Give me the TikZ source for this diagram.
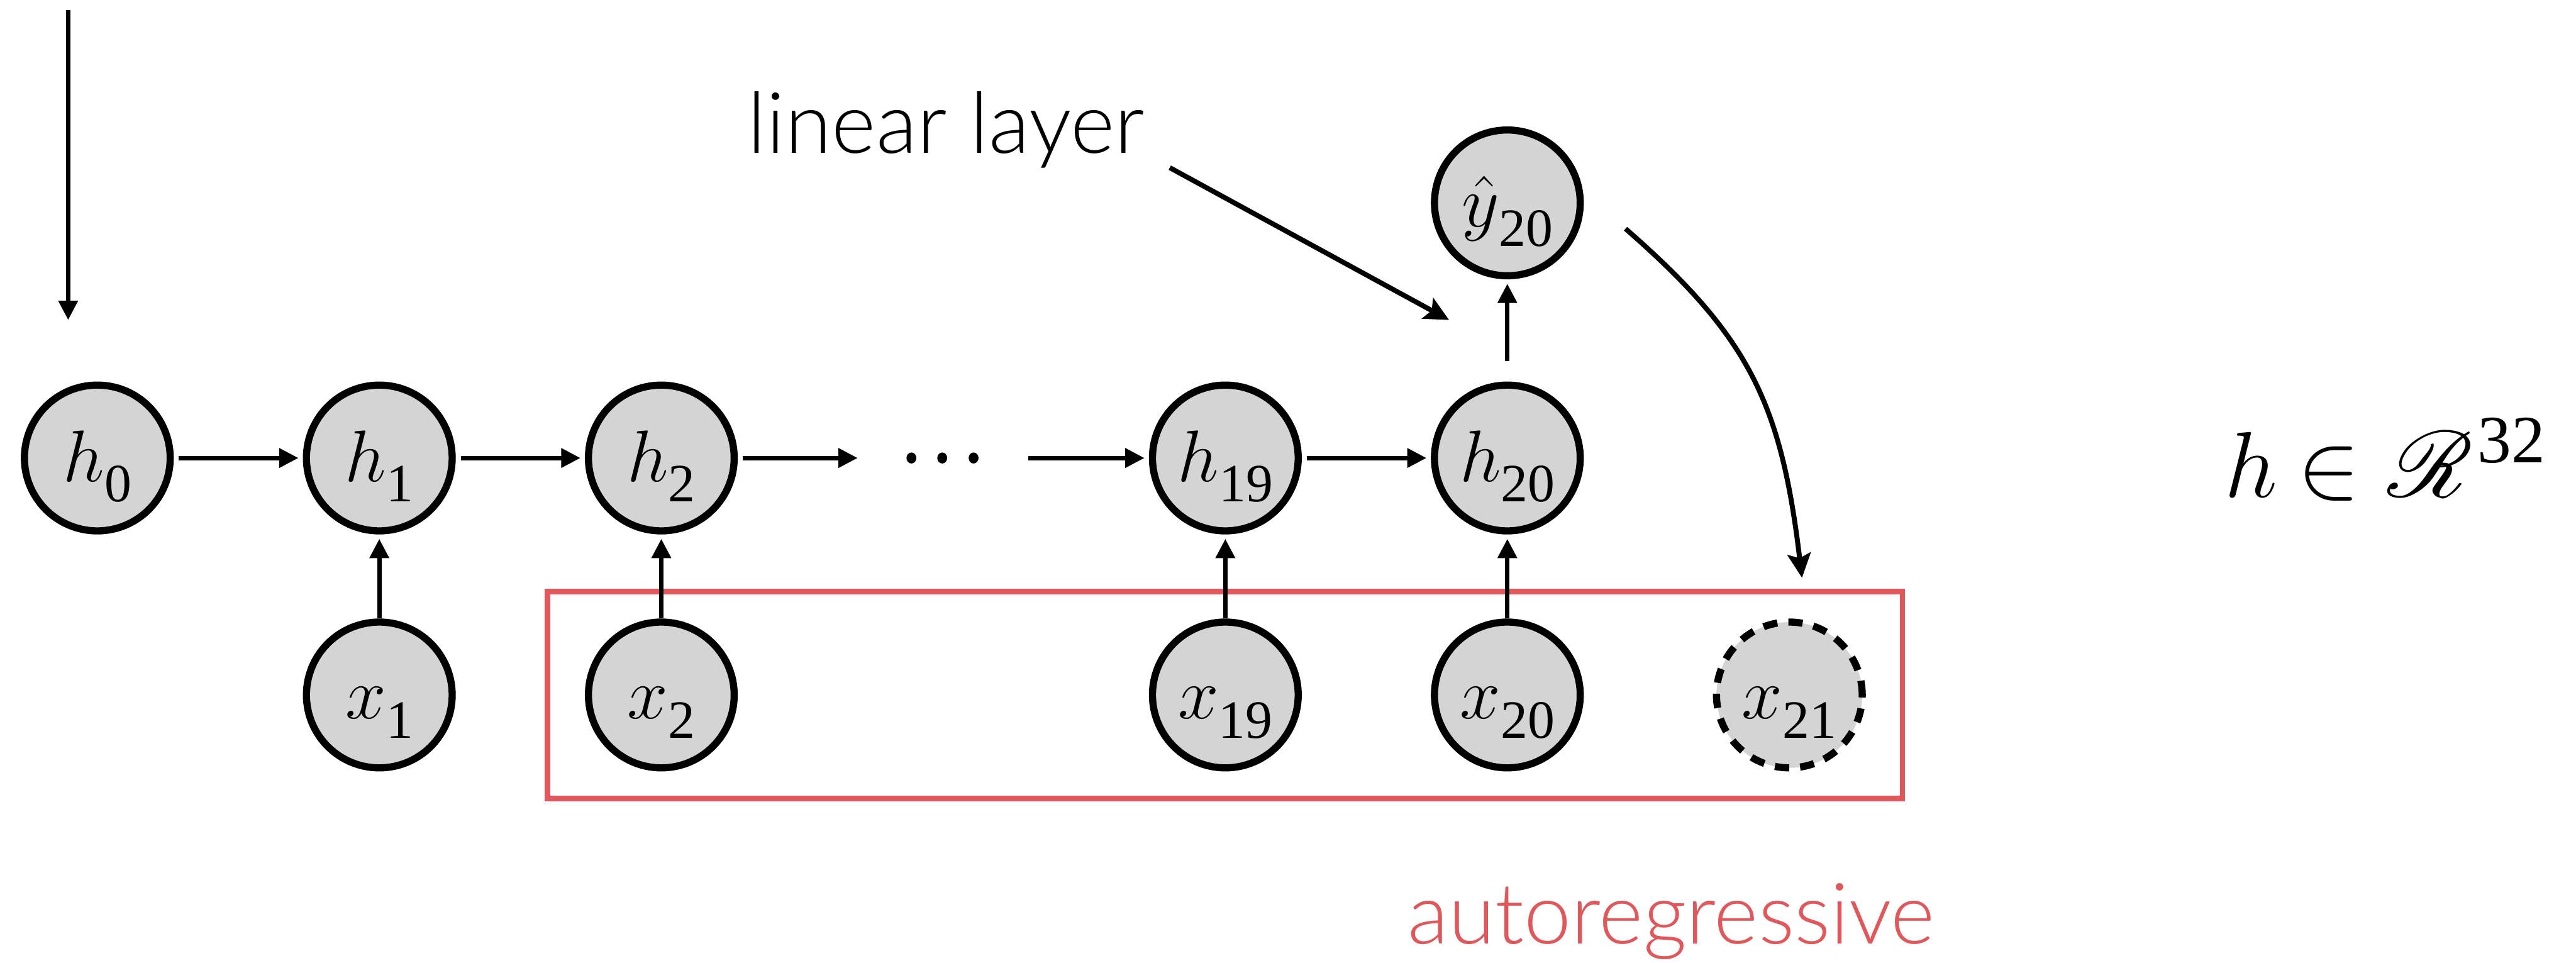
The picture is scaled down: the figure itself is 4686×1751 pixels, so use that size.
\RequirePackage{fix-cm}
\documentclass[tikz,border=0pt]{standalone}
\usepackage{fontspec}
\usetikzlibrary{arrows.meta}
\setmainfont{Liberation Serif}
\newfontfamily\labelfont{Liberation Serif}
\IfFontExistsTF{Lato Light}{\newfontfamily\lightsans{Lato Light}}{\newfontfamily\lightsans{Lato}}
% script R, scalable to any size
\DeclareFontFamily{U}{scriptr}{}
\DeclareFontShape{U}{scriptr}{m}{n}{<-> rsfs10}{}
\newcommand\scriptR{{\usefont{U}{scriptr}{m}{n}R}}
\definecolor{nodegray}{RGB}{212,212,212}
\definecolor{arred}{RGB}{224,88,92}
% italic symbol with an upright, lowered index
\newcommand\nlab[2]{$#1$\raisebox{-0.36cm}{\labelfont\fontsize{27.9pt}{28pt}\selectfont #2}}
% piece of a formula set at a fixed offset from its start
\newcommand\at[2]{\rlap{\hspace*{#1}#2}}

\tikzset{
  state/.style={circle, draw=black, fill=nodegray, line width=0.13cm,
    minimum size=2.65cm, inner sep=0pt,
    font=\labelfont\fontsize{37.8pt}{40pt}\selectfont,
    text height=0.9cm, text depth=0.04cm},
  guess/.style={state, dash pattern=on 0.26cm off 0.2cm},
  flow/.style={line width=0.08cm, -{Triangle[length=0.35cm, width=0.34cm]},
    shorten <=0.09cm, shorten >=0.08cm},
  feed/.style={flow, shorten <=0pt},
  bendarrow/.style={line width=0.09cm, -{Stealth[length=0.44cm, width=0.42cm, inset=0.08cm]}},
  caption/.style={anchor=base, font=\lightsans\fontsize{43.8pt}{45pt}\selectfont},
}

\begin{document}
\begin{tikzpicture}[x=0.01cm, y=-0.01cm]
  \path[use as bounding box] (0,0) rectangle (4686,1751);

  % autoregressive window
  \node[draw=arred, line width=0.1cm, minimum width=24.63cm, minimum height=3.76cm,
        inner sep=0pt] (autobox) at (2228.5,1264) {};

  % hidden states
  \node[state] (h0)  at (177,833)  {\nlab{h}{0}};
  \node[state] (h1)  at (690,833)  {\nlab{h}{1}};
  \node[state] (h2)  at (1203,833) {\nlab{h}{2}};
  \node[minimum width=2.92cm, minimum height=0.3cm, inner sep=0pt] (dots) at (1715,833) {};
  \node[state] (h19) at (2229,833) {\nlab{h}{19}};
  \node[state] (h20) at (2742,833) {\nlab{h}{20}};
  \node[state] (yhat) at (2742,369) {\nlab{\hat{y}}{20}};

  % inputs
  \node[state] (x1)  at (690,1264)  {\nlab{x}{1}};
  \node[state] (x2)  at (1203,1264) {\nlab{x}{2}};
  \node[state] (x19) at (2229,1264) {\nlab{x}{19}};
  \node[state] (x20) at (2742,1264) {\nlab{x}{20}};
  \node[guess] (x21) at (3255,1264) {\nlab{x}{21}};

  % ellipsis between h2 and h19
  \fill ([xshift=-0.57cm]dots.center) ellipse [x radius=0.09cm, y radius=0.1cm];
  \fill ([xshift=-0.01cm]dots.center) ellipse [x radius=0.09cm, y radius=0.1cm];
  \fill ([xshift=0.56cm]dots.center) ellipse [x radius=0.09cm, y radius=0.1cm];

  % recurrence
  \draw[flow] (h0) -- (h1);
  \draw[flow] (h1) -- (h2);
  \draw[flow] (h2) -- (dots);
  \draw[flow] (dots) -- (h19);
  \draw[flow] (h19) -- (h20);
  \draw[flow, shorten <=0.37cm] (h20) -- (yhat);

  % inputs into the hidden states
  \draw[feed] (x1) -- (h1);
  \draw[feed] (x2) -- (h2);
  \draw[feed] (x19) -- (h19);
  \draw[feed] (x20) -- (h20);

  % initial state arrow
  \coordinate (init0) at (124,18);
  \coordinate (init1) at (124,582);
  \draw[flow, shorten <=0pt, shorten >=0pt] (init0) -- (init1);

  % linear layer
  \node[caption] (lintext) at (1721,278) {linear layer};
  \coordinate (lin0) at (2128,305);
  \coordinate (lin1) at (2636,582);
  \draw[bendarrow] (lin0) -- (lin1);

  % prediction fed back as the next input
  \coordinate (back0) at (2957,416);
  \coordinate (back1) at (3278,1051);
  \draw[bendarrow] (back0) .. controls (3183,613) and (3240,734) .. (back1);

  \node[caption, text=arred] (artext) at (3040,1717) {autoregressive};

  % hidden size
  \node[anchor=base west, inner sep=0pt, font=\labelfont\fontsize{48.4pt}{50pt}\selectfont] (hdim) at (4044,904)
    {\at{0cm}{$h$}\at{1.33cm}{$\in$}\at{2.97cm}{\scriptR}%
     \at{4.6cm}{\raisebox{0.62cm}{\fontsize{35pt}{36pt}\selectfont 32}}};
\end{tikzpicture}
\end{document}
